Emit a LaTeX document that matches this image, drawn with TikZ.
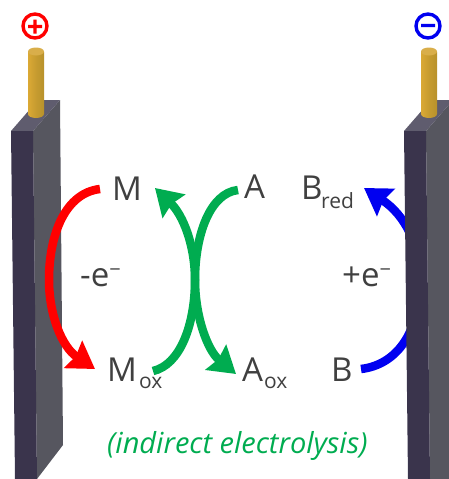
\documentclass[tikz,border=0pt]{standalone}
\usepackage{fontspec}
\setmainfont{Open Sans}
\usetikzlibrary{arrows.meta}
\definecolor{frontc}{HTML}{3A344C}
\definecolor{sidec}{HTML}{56565F}
\definecolor{topc}{HTML}{5F5C6E}
\definecolor{goldl}{HTML}{DBA935}
\definecolor{goldd}{HTML}{B8922C}
\definecolor{goldt}{HTML}{D9AE4A}
\definecolor{txtc}{HTML}{404040}
\definecolor{grn}{HTML}{00AC50}
\definecolor{redc}{HTML}{FF0000}
\definecolor{bluec}{HTML}{0000F0}
\tikzset{
  lab/.style={inner sep=0pt,anchor=base west,text=txtc,font=\fontsize{33}{33}\selectfont},
  sublab/.style={inner sep=0pt,anchor=base west,text=txtc,font=\fontsize{21}{21}\selectfont},
  arrowline/.style={line width=8.5pt,-{Stealth[length=26pt,width=32pt,inset=3pt]}},
  peg/.style={left color=goldl,right color=goldd,middle color=goldd!60!goldl},
}
\newcommand{\pegat}[1]{%
  \path[peg] (#1-8,52) -- (#1-8,114) arc[start angle=180,end angle=0,x radius=8,y radius=4] -- (#1+8,52) -- cycle;
  \fill[goldt] (#1,51.5) ellipse[x radius=8,y radius=4];
}
\begin{document}
\begin{tikzpicture}[x=1pt,y=-1pt]
\useasboundingbox (0,0) rectangle (448,479);
\coordinate (ms) at (100,189);
\coordinate (me) at (95,369);
\coordinate (gs1) at (153,371);
\coordinate (ge1) at (155,188);
\coordinate (gs2) at (238,190);
\coordinate (ge2) at (236,374);
\coordinate (bs) at (361,369);
\coordinate (be) at (364,188);
% left electrode
\fill[sidec] (33,131) -- (60,100) -- (63,445) -- (37,479) -- cycle;
\fill[topc] (11,131) -- (38,100) -- (60,100) -- (33,131) -- cycle;
\fill[frontc] (11,131) -- (33,131) -- (37,479) -- (15,479) -- cycle;
\pegat{36}
% blue arrow goes behind right electrode
\draw[arrowline,draw=bluec] (bs) .. controls (395,365) and (420,335) .. (420,280) .. controls (420,245) and (405,215) .. (be);
% right electrode
\fill[sidec] (426,131) -- (453,100) -- (453,479) -- (430,479) -- cycle;
\fill[topc] (404,131) -- (431,100) -- (453,100) -- (426,131) -- cycle;
\fill[frontc] (404,131) -- (426,131) -- (430,479) -- (408,479) -- cycle;
\pegat{429}
% red and green arrows
\draw[arrowline,draw=redc] (ms) .. controls (65,193) and (49,235) .. (49,280) .. controls (49,315) and (62,347) .. (me);
\draw[arrowline,draw=grn] (gs1) .. controls (180,365) and (195,325) .. (195,280) .. controls (195,245) and (183,215) .. (ge1);
\draw[arrowline,draw=grn] (gs2) .. controls (210,193) and (195,235) .. (195,280) .. controls (195,315) and (207,350) .. (ge2);
% signs
\draw[redc,line width=3.4pt] (35,26) circle[radius=12] (28,26.5) -- (42,26.5) (35,19.5) -- (35,33.5);
\draw[bluec,line width=3.4pt] (428,26) circle[radius=12] (421,25.5) -- (435,25.5);
% labels
\node[lab] (m) at (112,200) {M};
\node[lab] (a) at (244,198) {A};
\node[lab] (b) at (301,199) {B};
\node[sublab] (bsub) at (321,208) {red};
\node[lab] (mox) at (107,381) {M};
\node[sublab] (moxs) at (139,388) {ox};
\node[lab] (aox) at (242,381) {A};
\node[sublab] (aoxs) at (264,388) {ox};
\node[lab] (bb) at (331,381) {B};
\node[lab] (emi) at (80,286) {-e\raisebox{10pt}{\fontsize{20}{20}\selectfont −}};
\node[lab] (epl) at (342,286) {+e\raisebox{10pt}{\fontsize{20}{20}\selectfont −}};
\node[inner sep=0pt,anchor=base west,text=grn,font=\fontsize{29}{29}\selectfont\itshape] (cap) at (107,453) {(indirect electrolysis)};
\end{tikzpicture}
\end{document}
